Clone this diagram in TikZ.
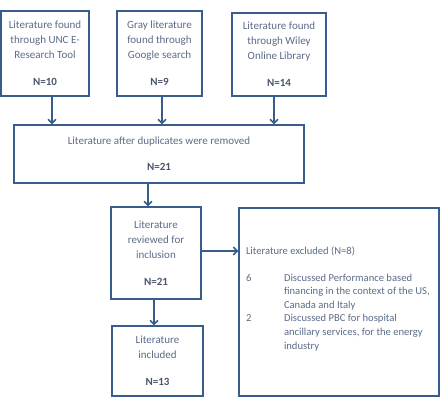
\documentclass[tikz,border=0pt]{standalone}
\usepackage{fontspec}
\setmainfont{Carlito}
\usetikzlibrary{positioning, arrows.meta}
\definecolor{FlowBlue}{HTML}{385D8A}
\definecolor{FlowText}{HTML}{5A6B87}
\definecolor{FlowBold}{HTML}{4A5568}
\newcommand{\nval}[1]{\textbf{\color{FlowBold}N=#1}}

\begin{document}
\begin{tikzpicture}[x=1pt, y=-1pt, font=\fontsize{11}{15}\selectfont, text=FlowText,
    box/.style={draw=FlowBlue, line width=1.1pt, align=center, inner sep=2pt},
    flow/.style={-{Straight Barb[length=4pt,width=8pt]}, draw=FlowBlue, line width=1.6pt}]
  \useasboundingbox (0,0) rectangle (445,411);
  % Sources
  \node[box, minimum width=88pt, minimum height=85pt] (unc) at (45,53.5)
    {Literature found\\through UNC E-\\Research Tool\\[12pt]\nval{10}};
  \node[box, minimum width=85pt, minimum height=85pt] (google) at (159.5,53.5)
    {Gray literature\\found through\\Google search\\[12pt]\nval{9}};
  \node[box, minimum width=94pt, minimum height=83pt] (wiley) at (279,54.5)
    {Literature found\\through Wiley\\Online Library\\[12pt]\nval{14}};
  % Screening
  \node[box, minimum width=290pt, minimum height=58pt] (merged) at (159,154)
    {Literature after duplicates were removed\\[11pt]\nval{21}};
  \node[box, minimum width=90pt, minimum height=92pt] (reviewed) at (156,253)
    {Literature\\reviewed for\\inclusion\\[12pt]\nval{21}};
  \node[box, minimum width=91pt, minimum height=70pt] (included) at (157.5,361)
    {Literature\\included\\[12pt]\nval{13}};
  \node[box, minimum width=200pt, minimum height=188pt, align=left,
        font=\fontsize{10.6}{13.6}\selectfont] (excluded) at (339,302)
    {\begin{tabular}{@{}p{38pt}@{}p{148pt}@{}}
      \multicolumn{2}{@{}l@{}}{Literature excluded (N=8)}\\[13pt]
      6 & Discussed Performance based\newline financing in the context of the US,\newline Canada and Italy\\
      2 & Discussed PBC for hospital\newline ancillary services, for the energy\newline industry\\[6pt]
    \end{tabular}};

  \draw[flow] ([xshift=7pt]unc.south) -- ([xshift=7pt]unc.south |- merged.north);
  \draw[flow] ([xshift=2.5pt]google.south) -- ([xshift=2.5pt]google.south |- merged.north);
  \draw[flow] ([xshift=-5pt]wiley.south) -- ([xshift=-5pt]wiley.south |- merged.north);
  \draw[flow] ([xshift=-8pt]reviewed.north |- merged.south) -- ([xshift=-8pt]reviewed.north);
  \draw[flow] ([xshift=-2pt]reviewed.south) -- ([xshift=-2pt]reviewed.south |- included.north);
  \draw[flow] ([yshift=2pt]reviewed.east) -- ([yshift=2pt]reviewed.east -| excluded.west);
\end{tikzpicture}
\end{document}
